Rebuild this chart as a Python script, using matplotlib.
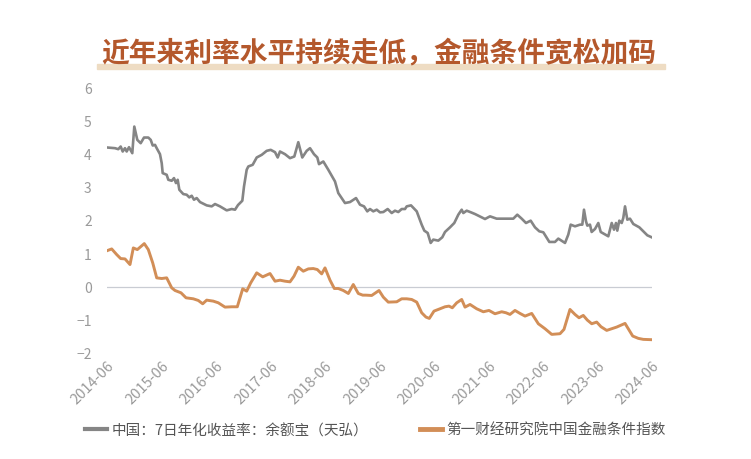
import matplotlib.pyplot as plt
from matplotlib.lines import Line2D
import matplotlib.transforms as mtransforms

plt.rcParams['font.family'] = ['Noto Sans CJK SC', 'DejaVu Sans']

title = '近年来利率水平持续走低，金融条件宽松加码'
label_gray = '中国：7日年化收益率：余额宝（天弘）'
label_orange = '第一财经研究院中国金融条件指数'
tick_years = [2014.5 + i for i in range(11)]
tick_labels = ['%d-06' % (2014 + i) for i in range(11)]
y_ticks = [-2, -1, 0, 1, 2, 3, 4, 5, 6]

# yuebao 7-day yield (decimal year, %)
gray_t = [2014.505, 2014.647, 2014.707, 2014.751, 2014.788, 2014.830, 2014.861, 2014.904,
          2014.964, 2015.001, 2015.056, 2015.118, 2015.179, 2015.258, 2015.302, 2015.339,
          2015.381, 2015.412, 2015.472, 2015.504, 2015.522, 2015.595, 2015.625, 2015.687,
          2015.729, 2015.766, 2015.797, 2015.827, 2015.900, 2015.962, 2016.010, 2016.054,
          2016.096, 2016.146, 2016.206, 2016.329, 2016.421, 2016.482, 2016.573, 2016.696,
          2016.788, 2016.849, 2016.904, 2016.983, 2017.014, 2017.063, 2017.093, 2017.173,
          2017.247, 2017.339, 2017.430, 2017.504, 2017.583, 2017.632, 2017.674, 2017.766,
          2017.858, 2017.937, 2018.010, 2018.083, 2018.164, 2018.225, 2018.298, 2018.359,
          2018.390, 2018.469, 2018.561, 2018.683, 2018.744, 2018.867, 2018.959, 2019.069,
          2019.142, 2019.216, 2019.276, 2019.326, 2019.386, 2019.449, 2019.509, 2019.570,
          2019.650, 2019.724, 2019.784, 2019.845, 2019.907, 2019.968, 2019.999, 2020.078,
          2020.183, 2020.274, 2020.322, 2020.384, 2020.439, 2020.487, 2020.579, 2020.652,
          2020.702, 2020.794, 2020.872, 2020.946, 2021.008, 2021.038, 2021.100, 2021.179,
          2021.252, 2021.313, 2021.375, 2021.436, 2021.528, 2021.650, 2021.955, 2022.028,
          2022.109, 2022.188, 2022.274, 2022.353, 2022.432, 2022.506, 2022.616, 2022.720,
          2022.781, 2022.904, 2022.964, 2023.008, 2023.087, 2023.179, 2023.221, 2023.252,
          2023.289, 2023.313, 2023.362, 2023.393, 2023.454, 2023.515, 2023.559, 2023.698,
          2023.761, 2023.803, 2023.839, 2023.863, 2023.900, 2023.944, 2023.973, 2024.005,
          2024.047, 2024.096, 2024.157, 2024.267, 2024.340, 2024.414, 2024.494]
gray_v = [4.18, 4.16, 4.13, 4.21, 4.06, 4.16, 4.06, 4.19,
          4.01, 4.81, 4.41, 4.31, 4.48, 4.48, 4.41, 4.24,
          4.26, 4.16, 3.98, 3.71, 3.41, 3.36, 3.21, 3.18,
          3.26, 3.11, 3.21, 2.91, 2.78, 2.76, 2.68, 2.73,
          2.61, 2.66, 2.54, 2.44, 2.41, 2.48, 2.41, 2.29,
          2.33, 2.31, 2.45, 2.58, 3.01, 3.51, 3.61, 3.66,
          3.88, 3.96, 4.08, 4.11, 4.04, 3.88, 4.06, 3.98,
          3.86, 3.91, 4.34, 3.88, 4.08, 4.16, 3.98, 3.88,
          3.68, 3.76, 3.51, 3.16, 2.81, 2.51, 2.54, 2.66,
          2.46, 2.41, 2.26, 2.33, 2.26, 2.31, 2.23, 2.24,
          2.33, 2.21, 2.28, 2.24, 2.33, 2.33, 2.41, 2.44,
          2.26, 1.86, 1.68, 1.61, 1.31, 1.41, 1.38, 1.48,
          1.64, 1.78, 1.91, 2.16, 2.31, 2.21, 2.28, 2.23,
          2.18, 2.13, 2.08, 2.03, 2.11, 2.04, 2.04, 2.16,
          2.04, 1.91, 1.98, 1.78, 1.66, 1.63, 1.34, 1.34,
          1.44, 1.31, 1.56, 1.86, 1.81, 1.86, 1.86, 2.31,
          1.96, 1.83, 1.86, 1.64, 1.73, 1.91, 1.64, 1.51,
          1.91, 1.71, 1.91, 1.68, 1.98, 1.91, 2.06, 2.41,
          2.01, 2.04, 1.88, 1.78, 1.66, 1.54, 1.48]

# financial conditions index
orange_t = [2014.506, 2014.586, 2014.678, 2014.751, 2014.830, 2014.922, 2014.983, 2015.056,
            2015.106, 2015.184, 2015.258, 2015.339, 2015.412, 2015.504, 2015.595, 2015.687,
            2015.748, 2015.858, 2015.950, 2016.083, 2016.175, 2016.256, 2016.329, 2016.450,
            2016.542, 2016.665, 2016.788, 2016.891, 2016.990, 2017.063, 2017.137, 2017.247,
            2017.357, 2017.491, 2017.583, 2017.674, 2017.766, 2017.858, 2017.931, 2018.010,
            2018.102, 2018.194, 2018.285, 2018.359, 2018.439, 2018.500, 2018.592, 2018.671,
            2018.744, 2018.836, 2018.928, 2019.019, 2019.111, 2019.192, 2019.250, 2019.357,
            2019.491, 2019.570, 2019.661, 2019.816, 2019.907, 2019.999, 2020.091, 2020.183,
            2020.274, 2020.353, 2020.414, 2020.500, 2020.610, 2020.702, 2020.775, 2020.836,
            2020.917, 2021.008, 2021.069, 2021.161, 2021.283, 2021.405, 2021.509, 2021.619,
            2021.742, 2021.821, 2021.894, 2021.986, 2022.078, 2022.170, 2022.293, 2022.414,
            2022.537, 2022.660, 2022.812, 2022.885, 2022.995, 2023.087, 2023.161, 2023.239,
            2023.313, 2023.394, 2023.485, 2023.564, 2023.669, 2023.852, 2024.005, 2024.146,
            2024.249, 2024.340, 2024.494]
orange_v = [1.08, 1.13, 0.96, 0.84, 0.83, 0.66, 1.16, 1.11,
            1.18, 1.29, 1.11, 0.71, 0.26, 0.24, 0.26, -0.04,
            -0.12, -0.19, -0.34, -0.37, -0.42, -0.52, -0.41, -0.44,
            -0.49, -0.62, -0.61, -0.61, -0.07, -0.14, 0.11, 0.41,
            0.29, 0.39, 0.16, 0.19, 0.16, 0.14, 0.31, 0.58,
            0.46, 0.53, 0.54, 0.51, 0.38, 0.56, 0.19, -0.06,
            -0.06, -0.12, -0.21, 0.06, -0.21, -0.26, -0.26, -0.27,
            -0.12, -0.32, -0.47, -0.46, -0.37, -0.37, -0.39, -0.47,
            -0.79, -0.92, -0.96, -0.74, -0.67, -0.61, -0.59, -0.64,
            -0.49, -0.39, -0.62, -0.54, -0.67, -0.76, -0.72, -0.82,
            -0.76, -0.79, -0.84, -0.72, -0.81, -0.89, -0.81, -1.12,
            -1.27, -1.44, -1.42, -1.29, -0.69, -0.84, -0.94, -0.87,
            -1.01, -1.12, -1.07, -1.21, -1.32, -1.22, -1.11, -1.49,
            -1.56, -1.59, -1.60]

gray_c = '#858585'
orange_c = '#d28e57'

fig = plt.figure(figsize=(7.51, 4.6), dpi=100)
ax = fig.add_axes([107 / 751, 1 - 354 / 460, 545 / 751, 266 / 460])

ax.axhline(0, color='#c9ccd3', lw=0.9, zorder=1)
ax.plot(gray_t, gray_v, color=gray_c, lw=1.9, zorder=3, solid_joinstyle='round')
ax.plot(orange_t, orange_v, color=orange_c, lw=2.1, zorder=3, solid_joinstyle='round')

ax.set_xlim(2014.5, 2024.5)
ax.set_ylim(-2, 6)
ax.set_yticks(y_ticks)
ax.set_yticklabels([str(v).replace('-', '\u2212') for v in y_ticks])
ax.set_xticks(tick_years)
ax.set_xticklabels(tick_labels, rotation=45, ha='right', va='top', rotation_mode='anchor')
offset = mtransforms.ScaledTranslation(16 / 100, -3 / 100, fig.dpi_scale_trans)
for lab in ax.get_xticklabels():
    lab.set_transform(lab.get_transform() + offset)
ax.tick_params(length=0, colors='#9a9a9a')
ax.tick_params(axis='x', labelsize=10.5)
ax.tick_params(axis='y', labelsize=10, pad=11)
for s in ax.spines.values():
    s.set_visible(False)

# title with underline highlight
fig.patches.append(plt.Rectangle((97 / 751, 1 - 70 / 460), 568 / 751, 5 / 460,
                                 transform=fig.transFigure, color='#eedcc3', zorder=0))
fig.text(379 / 751, 1 - 53 / 460, title, ha='center', va='center', fontsize=20,
         fontweight='black', color='#b4582c', zorder=2)

handles = [Line2D([], [], color=gray_c, lw=3),
           Line2D([], [], color=orange_c, lw=3.5)]
fig.legend(handles, [label_gray, label_orange], ncol=2, frameon=False,
           loc='center left', bbox_to_anchor=(85 / 751, 1 - 431 / 460),
           borderpad=0, borderaxespad=0, handlelength=1.5, handletextpad=0.35,
           columnspacing=3.5, fontsize=10.5, labelcolor='#555555')

fig.savefig('out.png', dpi=100)
